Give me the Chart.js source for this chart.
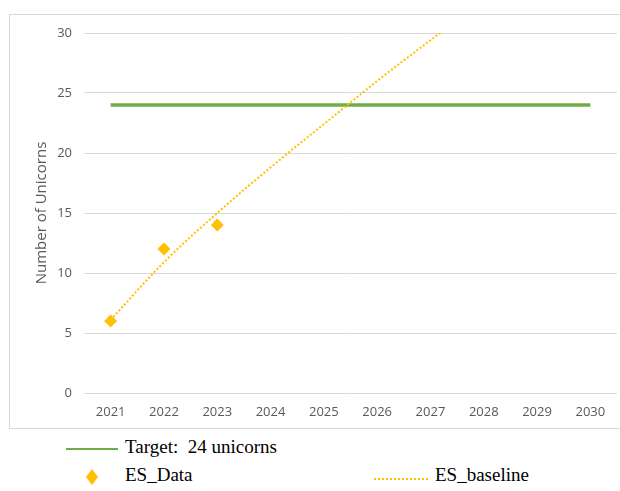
<!DOCTYPE html>
<html>
<head>
<meta charset="utf-8">
<script src="https://cdn.jsdelivr.net/npm/chart.js@4"></script>
<style>
  body { margin: 0; background: #fff; overflow: hidden; width: 620px; height: 491px; position: relative; }
  #frame { position: absolute; left: 9px; top: 14px; width: 640px; height: 415px; border: 1px solid #d9d9d9; box-sizing: border-box; }
  #wrap { position: absolute; left: 0; top: 0; width: 620px; height: 430px; }
  .leg { position: absolute; font-family: "Liberation Serif", "Times New Roman", serif; font-size: 19px; color: #000; white-space: pre; }
  .swatch { position: absolute; }
</style>
</head>
<body>
<div id="frame"></div>
<div id="wrap"><canvas id="chartUnicorns" width="620" height="430"></canvas></div>

<div class="swatch" style="left:66px; top:448px; width:52px; height:2px; background:#70AD47;"></div>
<div class="leg" style="left:125px; top:436px;">Target:  24 unicorns</div>

<svg class="swatch" style="left:86px; top:469px;" width="12" height="16"><polygon points="6,0 12,8 6,16 0,8" fill="#FFC000"/></svg>
<div class="leg" style="left:125px; top:464px;">ES_Data</div>

<div class="swatch" style="left:374px; top:478px; width:54px; height:0; border-top:2px dotted #FFC000;"></div>
<div class="leg" style="left:435px; top:464px;">ES_baseline</div>

<script>
// chart values
const years = ["2021", "2022", "2023", "2024", "2025", "2026", "2027", "2028", "2029", "2030"];
const target = [24, 24, 24, 24, 24, 24, 24, 24, 24, 24];
const esData = [6, 12, 14, null, null, null, null, null, null, null];
const esBaseline = [6.1, 10.9, 15.0, 18.8, 22.4, 26.0, 29.4, 32.7, null, null];

const ctx = document.getElementById("chartUnicorns").getContext("2d");

const chartUnicorns = new Chart(ctx, {
    type: "line",
    data: {
        labels: years,
        datasets: [
            {
                label: "Target: 24 unicorns",
                data: target,
                borderColor: "#70AD47",
                borderWidth: 3.5,
                pointRadius: 0,
                fill: false,
                order: 3
            },
            {
                label: "ES_baseline",
                data: esBaseline,
                borderColor: "#FFC000",
                borderWidth: 2,
                borderDash: [2, 2],
                pointRadius: 0,
                cubicInterpolationMode: "monotone",
                fill: false,
                order: 2
            },
            {
                label: "ES_Data",
                data: esData,
                showLine: false,
                pointStyle: "rectRot",
                pointRadius: 6.5,
                pointBackgroundColor: "#FFC000",
                pointBorderColor: "#FFC000",
                pointBorderWidth: 0,
                order: 1
            }
        ]
    },
    options: {
        responsive: false,
        animation: false,
        layout: { autoPadding: false, padding: { top: 33, right: 3, left: 0, bottom: 0 } },
        plugins: {
            legend: { display: false },
            tooltip: { enabled: false }
        },
        scales: {
            x: {
                offset: true,
                grid: { display: false, drawTicks: false },
                border: { display: false },
                ticks: {
                    color: "#595959",
                    padding: 11,
                    font: { family: "Open Sans", size: 13 }
                },
                afterFit: function (scale) {
                    scale.height = 37;
                    scale.paddingRight = 0;
                    scale.paddingLeft = 0;
                }
            },
            y: {
                min: 0,
                max: 30,
                ticks: {
                    stepSize: 5,
                    color: "#595959",
                    padding: 12,
                    font: { family: "Open Sans", size: 13 }
                },
                grid: { color: "#d9d9d9", lineWidth: 1, drawTicks: false },
                border: { display: false },
                title: {
                    display: true,
                    text: "Number of Unicorns",
                    color: "#595959",
                    font: { family: "Open Sans", size: 15 },
                    padding: { top: 33, bottom: 0 }
                },
                afterFit: function (scale) { scale.width = 84; }
            }
        }
    }
});
</script>
</body>
</html>
